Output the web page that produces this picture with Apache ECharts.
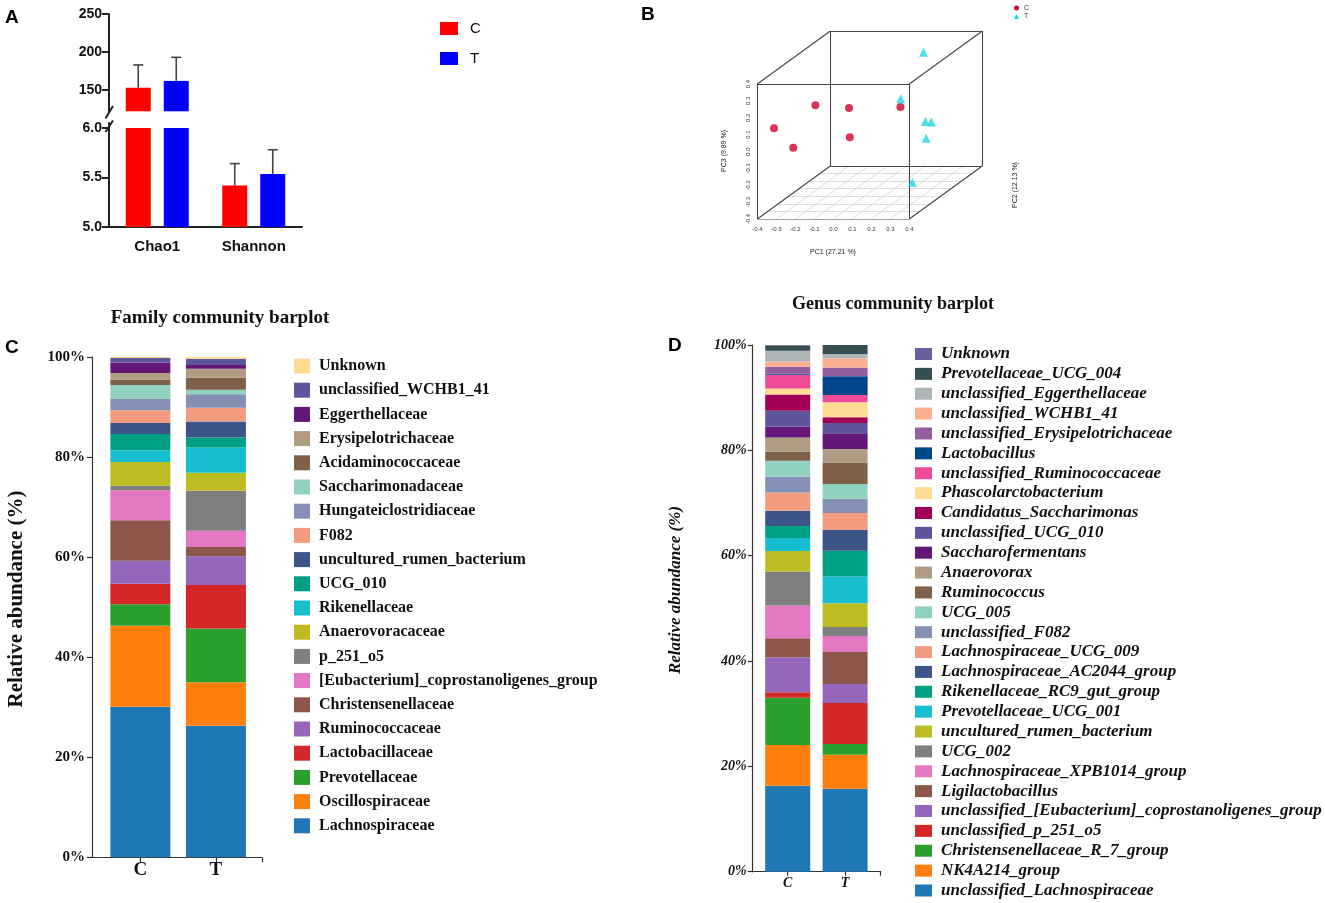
<!DOCTYPE html>
<html><head><meta charset="utf-8">
<script src="https://cdn.jsdelivr.net/npm/echarts@6/dist/echarts.min.js"></script>
<style>html,body{margin:0;padding:0;background:#fff}#c{width:1325px;height:903px}</style>
</head><body><div id="c"></div>
<script>
// ---------- Panel A: alpha diversity ----------
const alphaIndices = ['Chao1', 'Shannon'];
const meanC = [153, 5.42];
const meanT = [162, 5.535];
const errC = [30, 0.22];
const errT = [31, 0.245];
const upperTicks = [150, 200, 250];
const lowerTicks = [5.0, 5.5, 6.0];

// ---------- Panel B: PCA scores [PC1, PC2, PC3] ----------
const pcaC = [[-0.367,-0.30,0.093],[-0.293,-0.25,-0.045],[-0.259,-0.10,0.139],[-0.109,-0.05,0.101],[-0.023,-0.20,-0.006],[0.216,-0.15,0.152]];
const pcaT = [[0.200,0.10,0.364],[0.190,-0.10,0.178],[0.265,0.00,-0.001],[0.269,0.05,-0.027],[0.296,-0.05,-0.079],[0.114,0.15,-0.429]];
const pcTicks = [-0.4,-0.3,-0.2,-0.1,0.0,0.1,0.2,0.3,0.4];
const pc2Ticks = [-0.4,-0.3,-0.2,-0.1,0.0,0.1,0.2,0.3];

// ---------- Panel C: family (bottom to top) ----------
const groups = ['C', 'T'];
const familyNames = ['Lachnospiraceae','Oscillospiraceae','Prevotellaceae','Lactobacillaceae','Ruminococcaceae','Christensenellaceae','[Eubacterium]_coprostanoligenes_group','p_251_o5','Anaerovoracaceae','Rikenellaceae','UCG_010','uncultured_rumen_bacterium','F082','Hungateiclostridiaceae','Saccharimonadaceae','Acidaminococcaceae','Erysipelotrichaceae','Eggerthellaceae','unclassified_WCHB1_41','Unknown'];
const familyC = [30.1,16.2,4.3,4.1,4.55,8.1,6.0,0.9,4.75,2.3,3.3,2.2,2.55,2.35,2.7,1.1,1.3,2.1,0.9,0.2];
const familyT = [26.3,8.7,10.75,8.7,5.7,1.85,3.25,8.0,3.6,5.05,2.0,3.2,2.75,2.7,0.9,2.4,1.8,0.75,1.25,0.35];

// ---------- Panel D: genus (bottom to top) ----------
const genusNames = ['unclassified_Lachnospiraceae','NK4A214_group','Christensenellaceae_R_7_group','unclassified_p_251_o5','unclassified_[Eubacterium]_coprostanoligenes_group','Ligilactobacillus','Lachnospiraceae_XPB1014_group','UCG_002','uncultured_rumen_bacterium','Prevotellaceae_UCG_001','Rikenellaceae_RC9_gut_group','Lachnospiraceae_AC2044_group','Lachnospiraceae_UCG_009','unclassified_F082','UCG_005','Ruminococcus','Anaerovorax','Saccharofermentans','unclassified_UCG_010','Candidatus_Saccharimonas','Phascolarctobacterium','unclassified_Ruminococcaceae','Lactobacillus','unclassified_Erysipelotrichaceae','unclassified_WCHB1_41','unclassified_Eggerthellaceae','Prevotellaceae_UCG_004','Unknown'];
const genusC = [16.3,7.75,9.0,1.0,6.65,3.6,6.25,6.45,3.9,2.45,2.3,2.9,3.45,3.0,3.0,1.75,2.7,2.05,3.0,3.1,1.15,2.6,0.2,1.3,1.0,2.05,1.0,0.1];
const genusT = [15.75,6.45,2.05,7.8,3.6,6.05,3.05,1.7,4.5,5.1,4.9,3.95,3.2,2.7,2.8,4.0,2.65,3.0,1.95,1.1,2.85,1.35,3.55,1.7,1.75,0.8,1.7,0];

// ---------- styles ----------
const familyColors = ['#1F77B4','#FF7F0E','#2CA02C','#D62728','#9467BD','#8C564B','#E377C2','#7F7F7F','#BCBD22','#17BECF','#00A087','#3C5488','#F39B7F','#8491B4','#91D1C2','#7E6148','#B09C85','#631879','#5F559B','#FFDC91'];
const genusColors = ['#1F77B4','#FF7F0E','#2CA02C','#D62728','#9467BD','#8C564B','#E377C2','#7F7F7F','#BCBD22','#17BECF','#00A087','#3C5488','#F39B7F','#8491B4','#91D1C2','#7E6148','#B09C85','#631879','#5F559B','#A20056','#FFDC91','#EE4C97','#00468B','#925E9F','#FDAF91','#ADB6B6','#374E55','#6A5D9C'];
const SERIF = '"Liberation Serif","Times New Roman",serif';
const SANS = '"Liberation Sans",Arial,sans-serif';
const RED_A = '#FF0000', BLUE_A = '#0000FF';
const RED_B = '#D1002A', CYAN_B = '#20D5E6';

const chart = echarts.init(document.getElementById('c'), null, {width:1325, height:903});

// ----- Panel A helpers -----
const LOWER_MAX = 6.0;
const UPPER_MIN = 122;
const BAR_OFF = 19;
function errBar(name, means, errs, idxs, off, ax) {
  return {
    type:'custom', name, xAxisIndex:ax, yAxisIndex:ax, z:5,
    data: idxs.map(i => [i, means[i], errs[i]]),
    encode:{x:0, y:1},
    renderItem:(params, api) => {
      const i = api.value(0), m = api.value(1), e = api.value(2);
      const p0 = api.coord([i, m]), p1 = api.coord([i, m + e]);
      const x = p0[0] + off;
      const st = {stroke:'#444', lineWidth:1.6};
      return {type:'group', children:[
        {type:'line', shape:{x1:x, y1:p0[1], x2:x, y2:p1[1]}, style:st},
        {type:'line', shape:{x1:x-5, y1:p1[1], x2:x+5, y2:p1[1]}, style:st}
      ]};
    }
  };
}

// ----- Panel B projection (oblique) -----
const DX = 0.3842, DY = 0.3141;
const PC2_MIN = pc2Ticks[0], PC2_MAX = pc2Ticks[pc2Ticks.length-1];
const depth = b => (b - PC2_MIN) / (PC2_MAX - PC2_MIN);
const proj = (a, b, c) => [a + DX*depth(b), c + DY*depth(b)];
const lo = pcTicks[0], hi = pcTicks[pcTicks.length-1];
const corners = [];
[lo,hi].forEach(a => [PC2_MIN,PC2_MAX].forEach(b => [lo,hi].forEach(c => corners.push([a,b,c]))));
const boxEdges = [];
for (let i=0;i<corners.length;i++) for (let j=i+1;j<corners.length;j++) {
  let diff = 0; for (let k=0;k<3;k++) if (corners[i][k]!==corners[j][k]) diff++;
  if (diff===1) boxEdges.push({coords:[proj(...corners[i]), proj(...corners[j])]});
}
const floorLines = [];
pcTicks.slice(1,-1).forEach(a => floorLines.push({coords:[proj(a,PC2_MIN,lo), proj(a,PC2_MAX,lo)]}));
pc2Ticks.slice(1,-1).forEach(b => floorLines.push({coords:[proj(lo,b,lo), proj(hi,b,lo)]}));

// ----- stacked bar builders (value column first so that it is the stacked dimension) -----
function stackSeries(names, byGroup, colors, ax, width, stackId) {
  return names.map((n, i) => ({
    type:'bar', name:n, xAxisIndex:ax, yAxisIndex:ax, stack:stackId, barWidth:width,
    data: groups.map((g, j) => [byGroup[g][i], j]),
    encode:{x:1, y:0},
    itemStyle:{color:colors[i]}
  }));
}
function legendData(names, colors) {
  return names.map((n, i) => ({name:n, itemStyle:{color:colors[i]}})).reverse();
}
const famByGroup = {C: familyC, T: familyT};
const genByGroup = {C: genusC, T: genusT};

const axA = {lineStyle:{color:'#222', width:2}};
const C_MIN = -0.64, C_MAX = 1.61, D_MIN = -0.61, D_MAX = 1.62;

const option = {
  animation:false,
  backgroundColor:'#fff',
  grid:[
    {left:109, top:14, width:193, height:97.3},
    {left:109, top:123, width:193, height:104},
    {left:757.3, top:31, width:225, height:188},
    {left:92, top:357, width:170, height:500.3},
    {left:752.7, top:345, width:128, height:526.7}
  ],
  xAxis:[
    {type:'category', gridIndex:0, data:alphaIndices, show:false},
    {type:'category', gridIndex:1, data:alphaIndices,
      axisLine:{onZero:false, ...axA}, axisTick:{alignWithLabel:true, length:7, ...axA},
      axisLabel:{fontFamily:SANS, fontWeight:'bold', fontSize:15, color:'#111', margin:12}},
    {type:'value', gridIndex:2, min:lo, max:hi+DX, axisLine:{show:false}, axisTick:{show:false}, splitLine:{show:false},
      axisLabel:{customValues:pcTicks, formatter:v=>v.toFixed(1), fontSize:6, color:'#333', fontFamily:SANS, margin:7}},
    {type:'value', gridIndex:3, min:C_MIN, max:C_MAX, splitLine:{show:false},
      axisLine:{show:true, onZero:false, lineStyle:{color:'#333', width:1.2}},
      axisTick:{show:true, customValues:[0,1,C_MAX], length:5, lineStyle:{color:'#333', width:1.2}},
      axisLabel:{customValues:[0,1], formatter:v=>groups[Math.round(v)], fontFamily:SERIF, fontWeight:'bold', fontSize:19, color:'#111', margin:3}},
    {type:'value', gridIndex:4, min:D_MIN, max:D_MAX, splitLine:{show:false},
      axisLine:{show:true, onZero:false, lineStyle:{color:'#333', width:1.2}},
      axisTick:{show:true, customValues:[0,1,D_MAX], length:4, lineStyle:{color:'#333', width:1.2}},
      axisLabel:{customValues:[0,1], formatter:v=>groups[Math.round(v)], fontFamily:SERIF, fontWeight:'bold', fontStyle:'italic', fontSize:14, color:'#111', margin:5}}
  ],
  yAxis:[
    {type:'value', gridIndex:0, min:UPPER_MIN, max:250, splitLine:{show:false},
      axisLine:{show:true, onZero:false, ...axA}, axisTick:{show:true, customValues:upperTicks, length:7, ...axA},
      axisLabel:{customValues:upperTicks, fontFamily:SANS, fontWeight:'bold', fontSize:14, color:'#111', margin:7}},
    {type:'value', gridIndex:1, min:5, max:6.05, splitLine:{show:false},
      axisLine:{show:true, onZero:false, ...axA}, axisTick:{show:true, customValues:lowerTicks, length:7, ...axA},
      axisLabel:{customValues:lowerTicks, formatter:v=>v.toFixed(1), fontFamily:SANS, fontWeight:'bold', fontSize:14, color:'#111', margin:7}},
    {type:'value', gridIndex:2, min:lo, max:hi+DY, axisLine:{show:false}, axisTick:{show:false}, splitLine:{show:false},
      axisLabel:{customValues:pcTicks, formatter:v=>v.toFixed(1), rotate:90, fontSize:6, color:'#333', fontFamily:SANS, margin:6}},
    {type:'value', gridIndex:3, min:0, max:100, interval:20, splitLine:{show:false},
      axisLine:{show:true, onZero:false, lineStyle:{color:'#333', width:1.2}},
      axisTick:{show:true, length:5, lineStyle:{color:'#333', width:1.2}},
      axisLabel:{formatter:'{value}%', fontFamily:SERIF, fontWeight:'bold', fontSize:15, color:'#111', margin:7}},
    {type:'value', gridIndex:4, min:0, max:100, interval:20, splitLine:{show:false},
      axisLine:{show:true, onZero:false, lineStyle:{color:'#333', width:1.2}},
      axisTick:{show:true, length:5, lineStyle:{color:'#333', width:1.2}},
      axisLabel:{formatter:'{value}%', fontFamily:SERIF, fontWeight:'bold', fontStyle:'italic', fontSize:14, color:'#111', margin:6}}
  ],
  legend:[
    {data:[{name:'C', icon:'rect', itemStyle:{color:RED_A}}, {name:'T', icon:'rect', itemStyle:{color:BLUE_A}}],
      left:440, top:21, padding:0, orient:'vertical', itemWidth:18, itemHeight:13, itemGap:15, selectedMode:false,
      textStyle:{fontFamily:SANS, fontSize:15, color:'#111', padding:[0,0,0,7]}},
    {data:[{name:'C', icon:'circle', itemStyle:{color:RED_B}}, {name:'T', icon:'triangle', itemStyle:{color:CYAN_B}}],
      left:1014, top:4.5, padding:0, orient:'vertical', itemWidth:5, itemHeight:5, itemGap:1.5, selectedMode:false,
      textStyle:{fontFamily:SANS, fontSize:7, color:'#333'}},
    {data:legendData(familyNames, familyColors), left:294, top:358, padding:0, height:520, orient:'vertical', icon:'rect',
      itemWidth:16, itemHeight:15, itemGap:8.2, selectedMode:false,
      textStyle:{fontFamily:SERIF, fontWeight:'bold', fontSize:16, color:'#111', padding:[0,0,0,4]}},
    {data:legendData(genusNames, genusColors), left:915, top:345.5, padding:0, height:600, orient:'vertical', icon:'rect',
      itemWidth:17, itemHeight:12, itemGap:2.87, selectedMode:false,
      textStyle:{fontFamily:SERIF, fontWeight:'bold', fontStyle:'italic', fontSize:17, color:'#111', padding:[0,0,0,4]}}
  ],
  series:[
    // Panel A
    {type:'bar', name:'C', xAxisIndex:0, yAxisIndex:0, barWidth:25, barGap:'52%', itemStyle:{color:RED_A},
      data:[meanC[0], '-']},
    {type:'bar', name:'T', xAxisIndex:0, yAxisIndex:0, barWidth:25, barGap:'52%', itemStyle:{color:BLUE_A},
      data:[meanT[0], '-']},
    {type:'bar', name:'C', xAxisIndex:1, yAxisIndex:1, barWidth:25, barGap:'52%', itemStyle:{color:RED_A},
      data:[Math.min(meanC[0], LOWER_MAX), meanC[1]]},
    {type:'bar', name:'T', xAxisIndex:1, yAxisIndex:1, barWidth:25, barGap:'52%', itemStyle:{color:BLUE_A},
      data:[Math.min(meanT[0], LOWER_MAX), meanT[1]]},
    errBar('C', meanC, errC, [0], -BAR_OFF, 0),
    errBar('T', meanT, errT, [0], BAR_OFF, 0),
    errBar('C', meanC, errC, [1], -BAR_OFF, 1),
    errBar('T', meanT, errT, [1], BAR_OFF, 1),
    // Panel B
    {type:'lines', coordinateSystem:'cartesian2d', xAxisIndex:2, yAxisIndex:2, silent:true, z:1,
      lineStyle:{color:'#d4d4d4', width:0.8, opacity:1}, data:floorLines},
    {type:'lines', coordinateSystem:'cartesian2d', xAxisIndex:2, yAxisIndex:2, silent:true, z:2,
      lineStyle:{color:'#444', width:1.1, opacity:1}, data:boxEdges},
    {type:'scatter', xAxisIndex:2, yAxisIndex:2, silent:true, symbolSize:1, itemStyle:{opacity:0}, z:2,
      data:pc2Ticks.map(v => [...proj(hi, v, lo), v]),
      label:{show:true, position:'inside', offset:[18,0], formatter:p=>p.value[2].toFixed(1), fontSize:6, color:'#333', fontFamily:SANS}},
    {type:'scatter', name:'C', xAxisIndex:2, yAxisIndex:2, symbol:'circle', symbolSize:8, z:3,
      itemStyle:{color:RED_B}, data:pcaC.map(p => proj(...p))},
    {type:'scatter', name:'T', xAxisIndex:2, yAxisIndex:2, symbol:'triangle', symbolSize:9, z:3,
      itemStyle:{color:CYAN_B}, data:pcaT.map(p => proj(...p))},
    // Panels C and D
    ...stackSeries(familyNames, famByGroup, familyColors, 3, 60, 'family'),
    ...stackSeries(genusNames, genByGroup, genusColors, 4, 45, 'genus')
  ],
  graphic:[
    {type:'text', x:5, y:18, style:{text:'A', font:'bold 19px '+SANS, fill:'#000', align:'left', textAlign:'left', verticalAlign:'middle', textVerticalAlign:'middle'}},
    {type:'text', x:641, y:15, style:{text:'B', font:'bold 19px '+SANS, fill:'#000', align:'left', textAlign:'left', verticalAlign:'middle', textVerticalAlign:'middle'}},
    {type:'text', x:5, y:348, style:{text:'C', font:'bold 19px '+SANS, fill:'#000', align:'left', textAlign:'left', verticalAlign:'middle', textVerticalAlign:'middle'}},
    {type:'text', x:668, y:346, style:{text:'D', font:'bold 19px '+SANS, fill:'#000', align:'left', textAlign:'left', verticalAlign:'middle', textVerticalAlign:'middle'}},
    {type:'line', shape:{x1:105.5, y1:118.5, x2:113, y2:106}, style:{stroke:'#222', lineWidth:2}},
    {type:'line', shape:{x1:105.5, y1:132, x2:113, y2:120.5}, style:{stroke:'#222', lineWidth:2}},
    {type:'text', x:833, y:252, style:{text:'PC1 (27.21 %)', font:'7px '+SANS, fill:'#222', align:'center', textAlign:'center', verticalAlign:'middle', textVerticalAlign:'middle'}},
    {type:'text', x:724, y:151, rotation:Math.PI/2, style:{text:'PC3 (9.89 %)', font:'7px '+SANS, fill:'#222', align:'center', textAlign:'center', verticalAlign:'middle', textVerticalAlign:'middle'}},
    {type:'text', x:1015, y:185, rotation:Math.PI/2, style:{text:'PC2 (12.13 %)', font:'7px '+SANS, fill:'#222', align:'center', textAlign:'center', verticalAlign:'middle', textVerticalAlign:'middle'}},
    {type:'text', x:220, y:318, style:{text:'Family community barplot', font:'bold 19px '+SERIF, fill:'#111', align:'center', textAlign:'center', verticalAlign:'middle', textVerticalAlign:'middle'}},
    {type:'text', x:893, y:304.5, style:{text:'Genus community barplot', font:'bold 18px '+SERIF, fill:'#111', align:'center', textAlign:'center', verticalAlign:'middle', textVerticalAlign:'middle'}},
    {type:'text', x:17, y:599, rotation:Math.PI/2, style:{text:'Relative abundance (%)', font:'bold 21px '+SERIF, fill:'#111', align:'center', textAlign:'center', verticalAlign:'middle', textVerticalAlign:'middle'}},
    {type:'text', x:676, y:590, rotation:Math.PI/2, style:{text:'Relative abundance (%)', font:'italic bold 17px '+SERIF, fill:'#111', align:'center', textAlign:'center', verticalAlign:'middle', textVerticalAlign:'middle'}}
  ]
};
chart.setOption(option);
</script>
</body></html>
